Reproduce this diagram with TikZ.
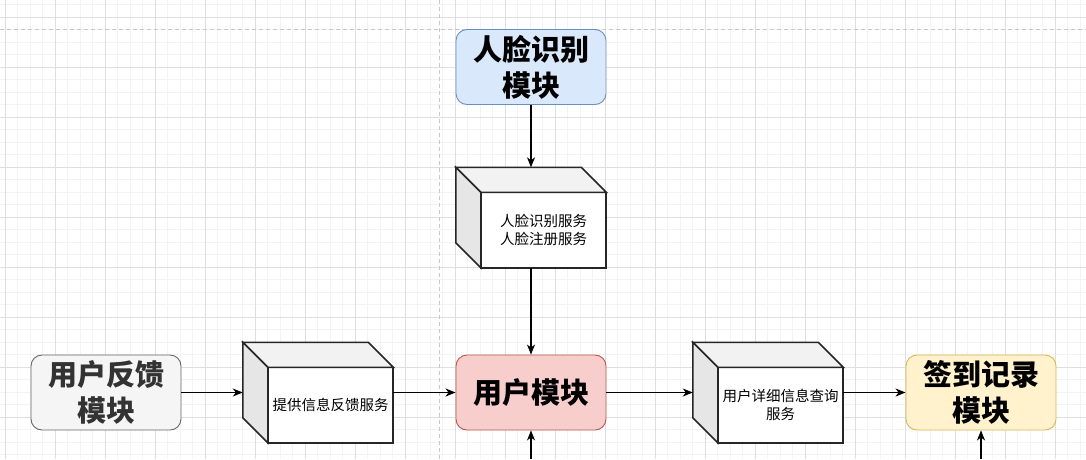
\documentclass[tikz,border=0pt]{standalone}
\usepackage{fontspec}
\setmainfont{Noto Sans CJK SC}
\usepackage{tikz}
\usetikzlibrary{arrows.meta,calc,positioning}

\definecolor{gridminor}{HTML}{F3F3F3}
\definecolor{gridmajor}{HTML}{DFDFDF}
\definecolor{pageline}{HTML}{C8C8C8}
\definecolor{blueFill}{HTML}{DAE8FC}
\definecolor{blueLine}{HTML}{6C8EBF}
\definecolor{redFill}{HTML}{F8CECC}
\definecolor{redLine}{HTML}{B85450}
\definecolor{grayFill}{HTML}{F5F5F5}
\definecolor{grayLine}{HTML}{666666}
\definecolor{grayText}{HTML}{333333}
\definecolor{yellowFill}{HTML}{FFF2CC}
\definecolor{yellowLine}{HTML}{D6B656}
\definecolor{cubeTop}{HTML}{F2F2F2}
\definecolor{cubeSide}{HTML}{E6E6E6}

% faces of a service cube, drawn round the named (invisible) node
\newcommand{\cubefaces}[1]{%
  \fill[white] ($(#1.north west)+(25,25)$) rectangle (#1.south east);
  \filldraw[cubeedge, fill=cubeTop] (#1.north west) -- ($(#1.north east)+(-25,0)$)
    -- ($(#1.north east)+(0,25)$) -- ($(#1.north west)+(25,25)$) -- cycle;
  \filldraw[cubeedge, fill=cubeSide] (#1.north west) -- ($(#1.north west)+(25,25)$)
    -- ($(#1.south west)+(25,0)$) -- ($(#1.south west)+(0,-25)$) -- cycle;
  \draw[cubeedge] ($(#1.north west)+(25,25)$) rectangle (#1.south east);
}

\begin{document}
\begin{tikzpicture}[x=1pt, y=-1pt,
  >={Stealth[length=10pt,width=8pt,inset=3pt]},
  module/.style={draw, line width=0.9pt, rounded corners=11pt,
    minimum width=150pt, minimum height=75pt, align=center,
    font=\bfseries\fontsize{29}{36}\selectfont},
  cube/.style={minimum width=150pt, minimum height=100pt, inner sep=0pt},
  cubeedge/.style={draw=black!85, line width=1.6pt, line join=miter},
  svc/.style={align=center, inner sep=0pt, font=\fontsize{14.5}{18}\selectfont},
  flow/.style={->, line width=1.1pt}]

  \useasboundingbox (0,0) rectangle (1086,459);
  \fill[white] (0,0) rectangle (1086,459);

  % grid
  \foreach \i in {0,...,86} \draw[gridminor, line width=1pt] (5+12.5*\i,0) -- (5+12.5*\i,459);
  \foreach \j in {0,...,36} \draw[gridminor, line width=1pt] (0,4.8+12.5*\j) -- (1086,4.8+12.5*\j);
  \foreach \i in {0,...,21} \draw[gridmajor, line width=1pt] (5+50*\i,0) -- (5+50*\i,459);
  \foreach \j in {0,...,8} \draw[gridmajor, line width=1pt] (0,17.3+50*\j) -- (1086,17.3+50*\j);
  \draw[pageline, line width=1pt, dash pattern=on 4pt off 3pt] (0,29.3) -- (1086,29.3);
  \draw[pageline, line width=1pt, dash pattern=on 4pt off 3pt] (439.5,0) -- (439.5,459);

  % modules
  \node[module, fill=blueFill, draw=blueLine] (face) at (531,67) {人脸识别\\模块};
  \node[module, fill=redFill, draw=redLine] (user) at (531,392.5) {用户模块};
  \node[module, fill=grayFill, draw=grayLine, text=grayText] (feedback) at (106,392.5) {用户反馈\\模块};
  \node[module, fill=yellowFill, draw=yellowLine] (signin) at (981,392.5) {签到记录\\模块};

  % services
  \node[cube] (faceSvc) at (531,217.5) {};
  \cubefaces{faceSvc}
  \node[svc] (faceSvcText) at ($(faceSvc.center)+(12.5,12.5)$) {人脸识别服务\\人脸注册服务};
  \node[cube] (feedbackSvc) at (318,392.5) {};
  \cubefaces{feedbackSvc}
  \node[svc] (feedbackSvcText) at ($(feedbackSvc.center)+(12.5,12.5)$) {提供信息反馈服务};
  \node[cube] (querySvc) at (768,392.5) {};
  \cubefaces{querySvc}
  \node[svc] (querySvcText) at ($(querySvc.center)+(12.5,12.5)$) {用户详细信息查询\\服务};

  % connections
  \coordinate (userIn) at (531,459);
  \coordinate (signinIn) at (981,459);
  \draw[flow] (face) -- (faceSvc);
  \draw[flow] (faceSvc) -- (user);
  \draw[flow] (feedback) -- (feedbackSvc);
  \draw[flow] (feedbackSvc) -- (user);
  \draw[flow] (user) -- (querySvc);
  \draw[flow] (querySvc) -- (signin);
  \draw[flow] (userIn) -- (user);
  \draw[flow] (signinIn) -- (signin);
\end{tikzpicture}
\end{document}
